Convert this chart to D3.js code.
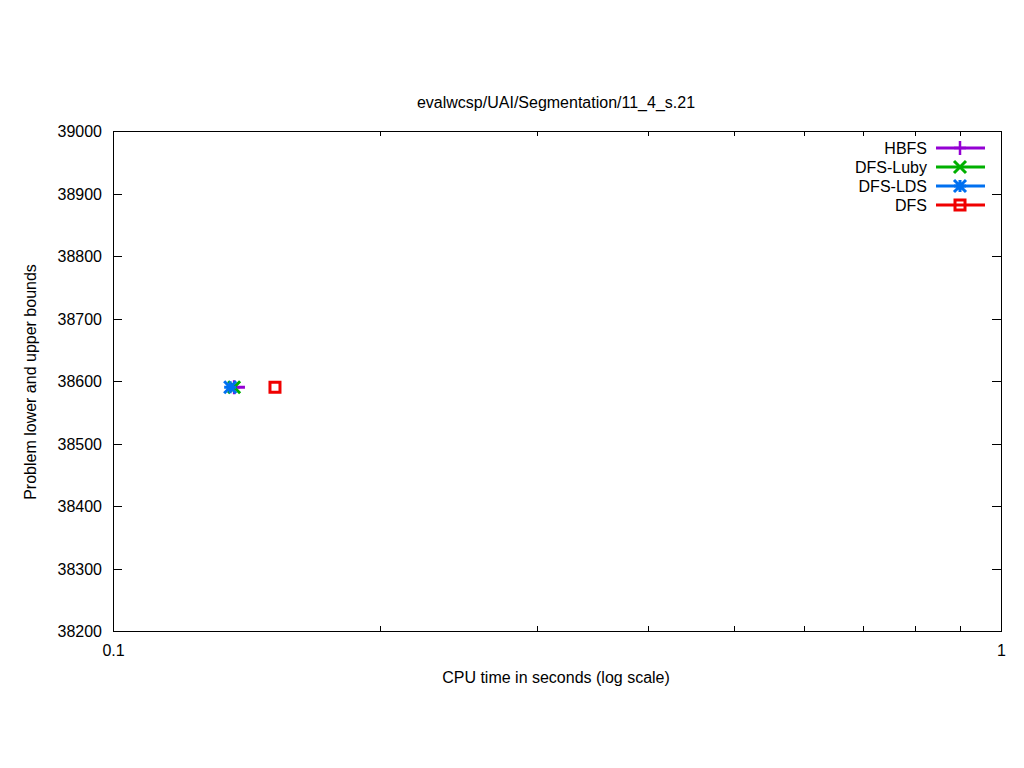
<!DOCTYPE html>
<html><head><meta charset="utf-8">
<script src="https://cdn.jsdelivr.net/npm/d3@7"></script>
<style>body{margin:0;background:#fff}svg{display:block}text{font-family:"Liberation Sans",Arial,sans-serif;font-size:16px;fill:#000}</style>
</head><body><svg id="c" width="1024" height="768"></svg>
<script>
const title = "evalwcsp/UAI/Segmentation/11_4_s.21";
const xLabel = "CPU time in seconds (log scale)";
const yLabel = "Problem lower and upper bounds";
const seriesNames = ["HBFS", "DFS-Luby", "DFS-LDS", "DFS"];
const seriesColors = ["#9400d3", "#00b000", "#0070f0", "#f00000"];
const seriesMarkers = ["plus", "cross", "star", "square"];
const hbfsTimes = [0.1369, 0.1408];
const hbfsValues = [38590, 38590];
const lubyTimes = [0.1369];
const lubyValues = [38590];
const ldsTimes = [0.1355];
const ldsValues = [38590];
const dfsTimes = [0.1522];
const dfsValues = [38590];
const yTicks = [38200, 38300, 38400, 38500, 38600, 38700, 38800, 38900, 39000];
const xTickLabels = [0.1, 1];
const xMinorTicks = [0.2, 0.3, 0.4, 0.5, 0.6, 0.7, 0.8, 0.9];

const svg = d3.select("#c");
const L = 113, R = 1001, T = 131, B = 631;
const x = d3.scaleLog().domain([0.1, 1]).range([L, R]);
const y = d3.scaleLinear().domain([38200, 39000]).range([B, T]);

svg.append("rect").attr("x", L + 0.5).attr("y", T + 0.5).attr("width", R - L).attr("height", B - T)
  .attr("fill", "none").attr("stroke", "#000").attr("stroke-width", 1);

yTicks.forEach(v => {
  const yy = Math.round(y(v)) + 0.5;
  svg.append("line").attr("x1", L).attr("x2", L + 9).attr("y1", yy).attr("y2", yy).attr("stroke", "#000");
  svg.append("line").attr("x1", R - 9).attr("x2", R).attr("y1", yy).attr("y2", yy).attr("stroke", "#000");
  svg.append("text").attr("x", L - 11).attr("y", yy + 5.5).attr("text-anchor", "end").text(v);
});
xMinorTicks.forEach(v => {
  const xx = Math.round(x(v)) + 0.5;
  svg.append("line").attr("x1", xx).attr("x2", xx).attr("y1", B).attr("y2", B - 5).attr("stroke", "#000");
  svg.append("line").attr("x1", xx).attr("x2", xx).attr("y1", T).attr("y2", T + 5).attr("stroke", "#000");
});
xTickLabels.forEach(v => {
  const xx = Math.round(x(v)) + 0.5;
  svg.append("line").attr("x1", xx).attr("x2", xx).attr("y1", B).attr("y2", B - 9).attr("stroke", "#000");
  svg.append("line").attr("x1", xx).attr("x2", xx).attr("y1", T).attr("y2", T + 9).attr("stroke", "#000");
  svg.append("text").attr("x", xx).attr("y", B + 25).attr("text-anchor", "middle").text(v);
});

svg.append("text").attr("x", 556).attr("y", 108).attr("text-anchor", "middle").text(title);
svg.append("text").attr("x", 556).attr("y", 683).attr("text-anchor", "middle").text(xLabel);
svg.append("text").attr("transform", "translate(36,382) rotate(-90)").attr("text-anchor", "middle").text(yLabel);

function marker(g, type, cx, cy, color) {
  const s = 6;
  if (type === "plus") {
    g.append("path").attr("d", `M${cx - s},${cy}H${cx + s}M${cx},${cy - s - 1}V${cy + s + 1}`).attr("stroke", color).attr("stroke-width", 2.5).attr("fill", "none");
  } else if (type === "cross") {
    g.append("path").attr("d", `M${cx - s},${cy - s}L${cx + s},${cy + s}M${cx - s},${cy + s}L${cx + s},${cy - s}`).attr("stroke", color).attr("stroke-width", 3).attr("fill", "none");
  } else if (type === "star") {
    g.append("path").attr("d", `M${cx - s},${cy}H${cx + s}M${cx},${cy - s}V${cy + s}M${cx - s},${cy - s}L${cx + s},${cy + s}M${cx - s},${cy + s}L${cx + s},${cy - s}`).attr("stroke", color).attr("stroke-width", 3).attr("fill", "none");
  } else if (type === "square") {
    g.append("rect").attr("x", cx - 5).attr("y", cy - 5).attr("width", 10).attr("height", 10).attr("stroke", color).attr("stroke-width", 3).attr("fill", "none");
  }
}

const series = [
  {t: hbfsTimes, v: hbfsValues, markAll: false},
  {t: lubyTimes, v: lubyValues, markAll: true},
  {t: ldsTimes, v: ldsValues, markAll: true},
  {t: dfsTimes, v: dfsValues, markAll: true}
];
const line = d3.line().x(d => x(d[0])).y(d => y(d[1]));
series.forEach((s, i) => {
  const pts = s.t.map((t, j) => [t, s.v[j]]);
  const g = svg.append("g");
  if (pts.length > 1) g.append("path").attr("d", line(pts)).attr("stroke", seriesColors[i]).attr("stroke-width", 3).attr("fill", "none");
  const mpts = s.markAll ? pts : [pts[0]];
  mpts.forEach(p => marker(g, seriesMarkers[i], x(p[0]), y(p[1]), seriesColors[i]));
});

seriesNames.forEach((n, i) => {
  const yy = 148 + i * 19;
  svg.append("text").attr("x", 927).attr("y", yy + 5.5).attr("text-anchor", "end").text(n);
  svg.append("line").attr("x1", 936).attr("x2", 985).attr("y1", yy).attr("y2", yy).attr("stroke", seriesColors[i]).attr("stroke-width", 3);
  marker(svg, seriesMarkers[i], 960, yy, seriesColors[i]);
});
</script></body></html>
